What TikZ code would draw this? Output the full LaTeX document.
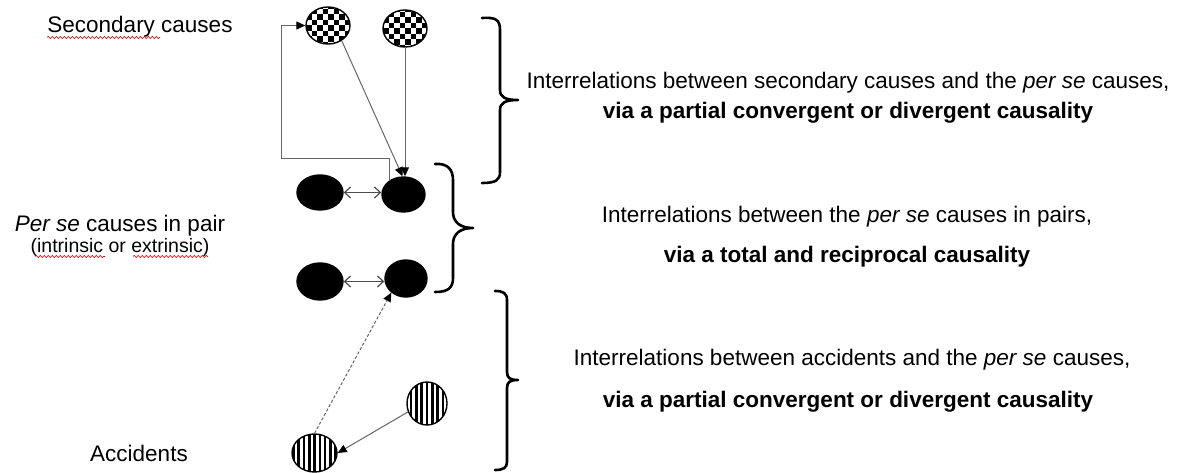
\documentclass[tikz,border=0pt]{standalone}
\usepackage{fontspec}
\setmainfont{Liberation Sans}
\usetikzlibrary{shapes.geometric,arrows.meta,decorations.pathmorphing}

\tikzset{
  oval/.style={ellipse, inner sep=0pt, line width=1.4pt},
  checkered/.style={oval, draw=black, fill=white, path picture={
      \foreach \i in {-5,...,4}{\foreach \j in {-5,...,4}{
        \pgfmathtruncatemacro\chk{mod(\i+\j+20,2)}
        \ifnum\chk=0
          \fill[black] ([shift={(\i*5.5,\j*5.5)}]path picture bounding box.center) rectangle ++(5.5,5.5);
        \fi}}}},
  striped/.style={oval, draw=black, fill=white, path picture={
      \foreach \k in {-5,...,5}
        \draw[black, line width=2.6pt] ([xshift=\k*5.3pt]path picture bounding box.center) ++(0,-30) -- ++(0,60);}},
  blackdot/.style={oval, draw=black, fill=black},
  lbl/.style={font=\fontsize{22.5}{27}\selectfont, inner sep=0pt, anchor=base},
  boldlbl/.style={lbl, font=\fontsize{22.5}{27}\selectfont\bfseries},
  smalllbl/.style={lbl, font=\fontsize{19.5}{23}\selectfont},
  spell/.style={draw=red!80!black, line width=0.6pt, decorate,
      decoration={snake, amplitude=1.1pt, segment length=4pt}},
  link/.style={draw=black!60, line width=1pt},
  headed/.style={-{Triangle[length=9pt,width=8pt,color=black]}},
  dbl/.style={{Straight Barb[length=6pt,width=11pt]}-{Straight Barb[length=6pt,width=11pt]},
      draw=black!70, line width=1.2pt},
  brace/.style={draw=black, line width=2.6pt, line join=round, line cap=round}
}

\begin{document}
\begin{tikzpicture}[x=1pt, y=-1pt]
  \useasboundingbox (0,0) rectangle (1192,473);

  % left-hand labels
  \node[lbl] (sec) at (140,33) {Secondary causes};
  \node[lbl] (per) at (120,231.5) {\textit{Per se} causes in pair};
  \node[smalllbl] (intr) at (120,253) {(intrinsic or extrinsic)};
  \node[lbl] (acc) at (139,461.5) {Accidents};

  % spell-check underlines
  \draw[spell] (47,37.5) -- (160,37.5);
  \draw[spell] (35,256.5) -- (105,256.5);
  \draw[spell] (133,256.5) -- (208,256.5);

  % secondary causes
  \node[checkered, minimum width=44pt, minimum height=37pt] (c1) at (328,25.5) {};
  \node[checkered, minimum width=44pt, minimum height=37pt] (c2) at (405,28.5) {};

  % per se causes in pairs
  \node[blackdot, minimum width=46pt, minimum height=35pt] (b1) at (320,192.5) {};
  \node[blackdot, minimum width=43pt, minimum height=35pt] (b2) at (403.5,194.5) {};
  \node[blackdot, minimum width=46pt, minimum height=37pt] (b3) at (320,281.5) {};
  \node[blackdot, minimum width=42pt, minimum height=37pt] (b4) at (406,278.5) {};

  % accidents
  \node[striped, minimum width=40pt, minimum height=43pt] (s1) at (427,403.5) {};
  \node[striped, minimum width=45pt, minimum height=38pt] (s2) at (314.5,453) {};

  % connectors
  \coordinate (loopA) at (281,159);
  \draw[link, headed] (b2.136) |- (loopA) |- (c1.west);
  \draw[link, headed] (c1.-48) -- ([xshift=-1pt]b2.north);
  \draw[link, headed] (c2.south) -- (c2.south |- b2.north);
  \draw[dbl] (b1.east) -- (b1.east -| b2.west);
  \draw[dbl] (b3.east) -- (b3.east -| b4.west);
  \draw[link, dash pattern=on 3pt off 2pt, headed] (s2.north) -- (b4.224);
  \draw[link, headed] (s1.204) -- (s2.east);

  % braces
  \draw[brace] (482,18) .. controls (496,17) and (500,20) .. (500,30) -- (500,90)
     .. controls (500,97) and (505,100) .. (518,100)
     .. controls (505,100) and (500,103) .. (500,110) -- (500,172)
     .. controls (500,180) and (496,183) .. (482,183);
  \draw[brace] (435,164) .. controls (448,163) and (453,170) .. (453,180) -- (453,212)
     .. controls (453,222) and (460,228) .. (473,228)
     .. controls (460,228) and (453,234) .. (453,244) -- (453,278)
     .. controls (453,288) and (448,292) .. (435,292);
  \draw[brace] (495,291) .. controls (503,291) and (507,293) .. (507,300) -- (507,372)
     .. controls (507,378) and (510,380) .. (518,380)
     .. controls (510,380) and (507,382) .. (507,388) -- (507,462)
     .. controls (507,468) and (503,470) .. (495,470);

  % explanatory texts
  \node[lbl] (t1a) at (848,88.5) {Interrelations between secondary causes and the \textit{per se} causes,};
  \node[boldlbl] (t1b) at (848,119) {via a partial convergent or divergent causality};
  \node[lbl] (t2a) at (847,223) {Interrelations between the \textit{per se} causes in pairs,};
  \node[boldlbl] (t2b) at (847,263) {via a total and reciprocal causality};
  \node[lbl] (t3a) at (852,365) {Interrelations between accidents and the \textit{per se} causes,};
  \node[boldlbl] (t3b) at (848,407) {via a partial convergent or divergent causality};
\end{tikzpicture}
\end{document}
